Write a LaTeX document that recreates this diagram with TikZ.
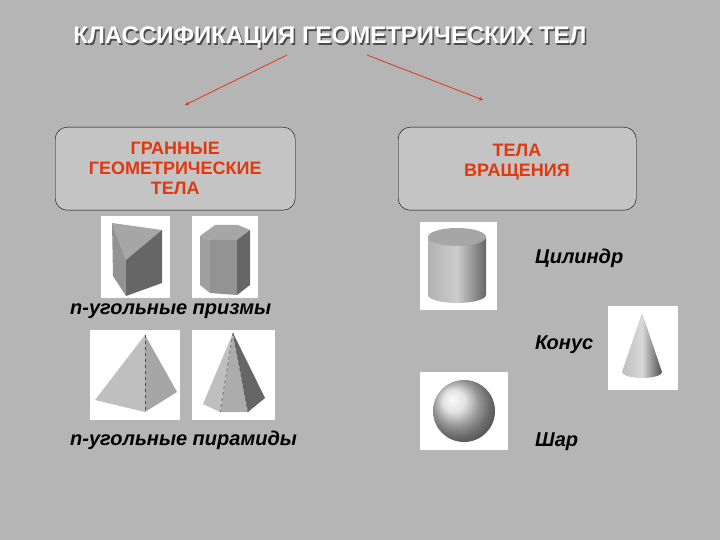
\documentclass[tikz,border=0pt]{standalone}
\usepackage{fontspec}
\setmainfont{Liberation Sans}
\begin{document}
\begin{tikzpicture}[x=1pt,y=-1pt,
  cat/.style={draw=black,rounded corners=12pt,fill=boxgray,minimum width=240pt,minimum height=83pt,anchor=north west,inner sep=0pt},
  cattext/.style={text=redt,font=\bfseries\fontsize{18}{20}\selectfont,align=center},
  lab/.style={font=\bfseries\itshape\fontsize{20}{22}\selectfont,anchor=west,inner sep=0pt},
  pic/.style={fill=white,draw=none},
  arr/.style={draw=redt,-stealth,line width=0.8pt}]
\definecolor{bg}{HTML}{B5B5B5}
\definecolor{boxgray}{HTML}{C4C4C4}
\definecolor{redt}{HTML}{E0380F}
\fill[bg] (0,0) rectangle (720,540);
\useasboundingbox (0,0) rectangle (720,540);
% title
\node[text=black!70,font=\bfseries\fontsize{24}{28}\selectfont] at (331.5,39.5) {КЛАССИФИКАЦИЯ ГЕОМЕТРИЧЕСКИХ ТЕЛ};
\node[text=white,font=\bfseries\fontsize{24}{28}\selectfont] (title) at (330,38) {КЛАССИФИКАЦИЯ ГЕОМЕТРИЧЕСКИХ ТЕЛ};
\coordinate (a1) at (287,55); \coordinate (a2) at (185,105);
\coordinate (b1) at (367,55); \coordinate (b2) at (483,100);
\draw[arr] (a1) -- (a2);
\draw[arr] (b1) -- (b2);
% boxes
\node[cat] (L) at (55,127) {};
\node[cattext] at (L.center) {ГРАННЫЕ\\ГЕОМЕТРИЧЕСКИЕ\\ТЕЛА};
\node[cat,minimum width=238pt] (R) at (398,127) {};
\node[cattext,anchor=north] at (517,141) {ТЕЛА\\ВРАЩЕНИЯ};
% picture frames
\fill[pic] (101,216) rectangle (170,298);
\fill[pic] (192,216) rectangle (258,298);
\fill[pic] (90,330) rectangle (180,420);
\fill[pic] (192,330) rectangle (275,420);
\fill[pic] (420,222) rectangle (497,310);
\fill[pic] (608,306) rectangle (678,390);
\fill[pic] (420,372) rectangle (508,450);
% triangular prism
\fill[gray!70] (112,223) -- (162,230) -- (126,260) -- cycle;
\fill[gray!85] (112,223) -- (126,260) -- (126,296) -- (113,276) -- cycle;
\fill[black!60] (126,260) -- (162,230) -- (162,283) -- (126,296) -- cycle;
% hexagonal prism
\fill[gray!70] (200,236) -- (215,225) -- (238,225) -- (250,230) -- (237,240) -- (210,240) -- cycle;
\fill[gray!75] (200,236) -- (210,240) -- (210,293) -- (200,285) -- cycle;
\fill[gray!85] (210,240) -- (237,240) -- (237,295) -- (210,293) -- cycle;
\fill[black!60] (237,240) -- (250,230) -- (250,285) -- (237,295) -- cycle;
% pyramid 1
\fill[gray!50] (145,335) -- (95,400) -- (145,412) -- cycle;
\fill[gray!70] (145,335) -- (145,412) -- (177,392) -- cycle;
\draw[black!70,dashed,line width=0.5pt] (145,335) -- (145,412);
% pyramid 2
\fill[gray!50] (233,333) -- (203,404) -- (220,412) -- cycle;
\fill[gray!65] (233,333) -- (220,412) -- (248,412) -- cycle;
\fill[black!60] (233,333) -- (248,412) -- (265,398) -- cycle;
\draw[black!70,dashed,line width=0.5pt] (233,333) -- (220,412) (233,333) -- (248,412);
% cylinder
\shade[left color=gray!60,right color=black!60,middle color=gray!40] (428,237) -- (428,295) arc[start angle=180,end angle=0,x radius=29,y radius=8] -- (486,237) -- cycle;
\fill[gray!70] (457,237) ellipse[x radius=29,y radius=9];
% cone
\shade[left color=gray!50,right color=black!70,middle color=gray!30] (642,313) -- (622,372) arc[start angle=180,end angle=0,x radius=20,y radius=6] -- cycle;
% sphere
\shade[ball color=gray!30] (464,411) circle[radius=31];
% labels
\node[lab] (l1) at (70,311) {n-угольные призмы};
\node[lab] (l2) at (70,440) {n-угольные пирамиды};
\node[lab] (c1) at (535,258) {Цилиндр};
\node[lab] (c2) at (535,345) {Конус};
\node[lab] (c3) at (535,442) {Шар};
\end{tikzpicture}
\end{document}
